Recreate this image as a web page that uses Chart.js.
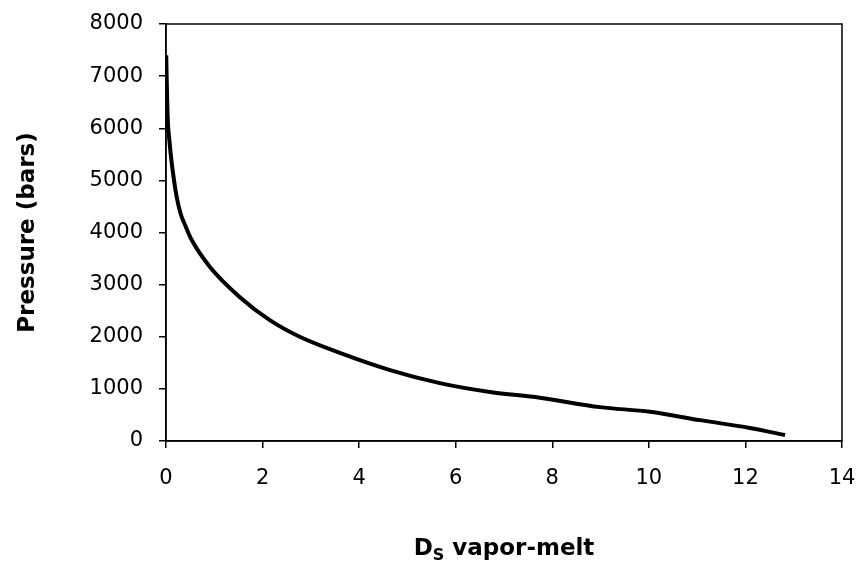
<!DOCTYPE html>
<html>
<head>
    <meta charset="UTF-8">
    <title>Pressure vs Ds</title>
    <style>
        body {
            margin: 0;
            background-color: #FFFFFF;
        }
        #chartContainer {
            width: 857px;
            height: 564px;
        }
    </style>
    <script src="https://cdn.jsdelivr.net/npm/chart.js"></script>
</head>
<body>
    <div id="chartContainer">
        <canvas id="myChart"></canvas>
    </div>

    <script>
        // Werte
        var dsValues = [0.005, 0.013, 0.028, 0.04, 0.07, 0.104, 0.166, 0.22, 0.30, 0.41, 0.53, 0.91, 1.53, 2.15, 2.77, 3.6, 4.64, 5.67, 6.71, 7.74, 8.99, 10.02, 11.06, 12.09, 12.82];
        var pressureValues = [7400, 6990, 6410, 6090, 5770, 5450, 5000, 4690, 4370, 4110, 3860, 3340, 2760, 2320, 2000, 1690, 1360, 1110, 940, 830, 650, 560, 400, 250, 115];

        var yTitle = 'Pressure (bars)';
        var xTitleMain = 'D';
        var xTitleSub = 'S';
        var xTitleRest = ' vapor-melt';

        var points = dsValues.map(function(x, i) {
            return { x: x, y: pressureValues[i] };
        });

        // Rahmen um die Plotfläche + x-Titel mit Subskript
        var framePlugin = {
            id: 'frame',
            afterDraw: function(chart) {
                var ctx = chart.ctx;
                var a = chart.chartArea;
                ctx.save();
                ctx.strokeStyle = '#000';
                ctx.lineWidth = 1.5;
                ctx.strokeRect(a.left, a.top, a.right - a.left, a.bottom - a.top);

                var big = 'bold 23px "DejaVu Sans"';
                var small = 'bold 16px "DejaVu Sans"';
                ctx.font = big;
                var w1 = ctx.measureText(xTitleMain).width;
                var w3 = ctx.measureText(xTitleRest).width;
                ctx.font = small;
                var w2 = ctx.measureText(xTitleSub).width;
                var total = w1 + w2 + w3;
                var x0 = (a.left + a.right) / 2 - total / 2;
                var baseY = 555;
                ctx.fillStyle = '#000';
                ctx.textBaseline = 'alphabetic';
                ctx.textAlign = 'left';
                ctx.font = big;
                ctx.fillText(xTitleMain, x0, baseY);
                ctx.font = small;
                ctx.fillText(xTitleSub, x0 + w1, baseY + 5);
                ctx.font = big;
                ctx.fillText(xTitleRest, x0 + w1 + w2, baseY);
                ctx.restore();
            }
        };

        var ctx = document.getElementById('myChart').getContext('2d');
        var myChart = new Chart(ctx, {
            type: 'scatter',
            data: {
                datasets: [{
                    data: points,
                    showLine: true,
                    borderColor: '#000',
                    backgroundColor: '#000',
                    borderWidth: 4,
                    pointRadius: 0,
                    cubicInterpolationMode: 'monotone'
                }]
            },
            options: {
                responsive: true,
                maintainAspectRatio: false,
                animation: false,
                layout: {
                    padding: { left: 0, right: 15, top: 24, bottom: 0 }
                },
                plugins: {
                    legend: { display: false },
                    tooltip: { enabled: false }
                },
                scales: {
                    x: {
                        type: 'linear',
                        min: 0,
                        max: 14,
                        afterFit: function(scale) {
                            scale.height = 123;
                            scale.paddingLeft = 0;
                            scale.paddingRight = 0;
                        },
                        ticks: {
                            stepSize: 2,
                            color: '#000',
                            padding: 18,
                            font: { family: 'DejaVu Sans', size: 21 }
                        },
                        grid: {
                            display: true,
                            drawOnChartArea: false,
                            drawTicks: true,
                            tickLength: 7,
                            color: '#000',
                            lineWidth: 1.5
                        },
                        border: { display: true, color: '#000', width: 1.5 }
                    },
                    y: {
                        min: 0,
                        max: 8000,
                        afterFit: function(scale) {
                            scale.width = 166;
                            scale.paddingTop = 0;
                            scale.paddingBottom = 0;
                        },
                        ticks: {
                            stepSize: 1000,
                            color: '#000',
                            padding: 16,
                            font: { family: 'DejaVu Sans', size: 21 },
                            callback: function(value) { return String(value); }
                        },
                        grid: {
                            display: true,
                            drawOnChartArea: false,
                            drawTicks: true,
                            tickLength: 7,
                            color: '#000',
                            lineWidth: 1.5
                        },
                        border: { display: true, color: '#000', width: 1.5 },
                        title: {
                            display: true,
                            text: yTitle,
                            color: '#000',
                            padding: { top: 14, bottom: 0 },
                            font: { family: 'DejaVu Sans', size: 23, weight: 'bold' }
                        }
                    }
                }
            },
            plugins: [framePlugin]
        });
    </script>
</body>
</html>
